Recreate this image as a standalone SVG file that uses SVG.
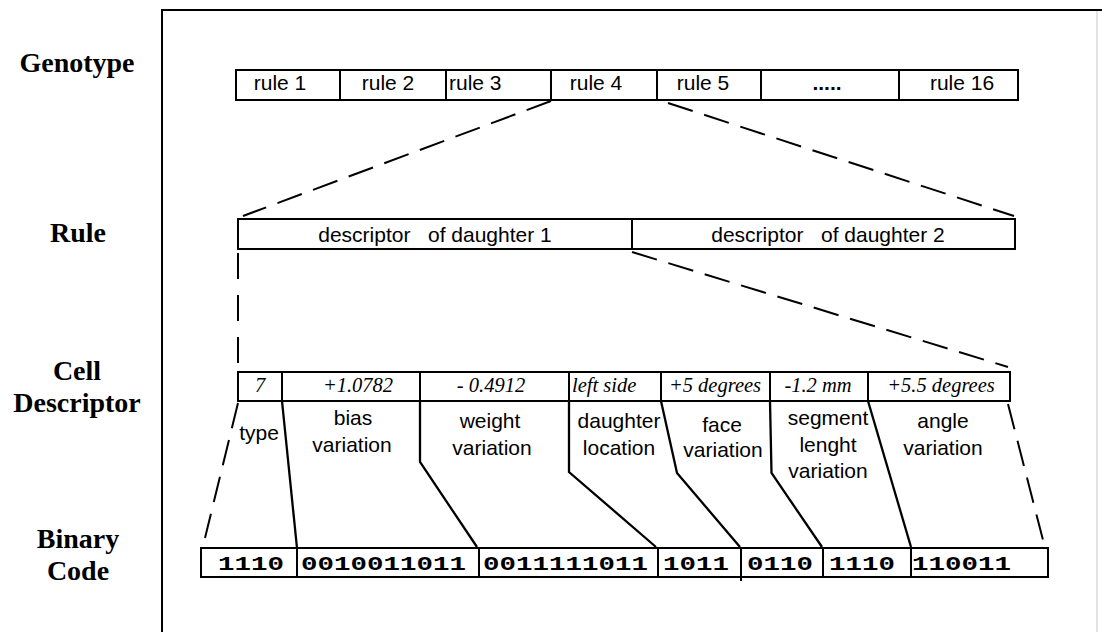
<svg xmlns="http://www.w3.org/2000/svg" width="1102" height="632" viewBox="0 0 1102 632">
<style>
.box{fill:#fff;stroke:#000;stroke-width:2}
.lbl{font-family:"Liberation Serif","Times New Roman",serif;font-weight:bold;font-size:28px;text-anchor:middle;fill:#000}
.t{font-family:"Liberation Sans",Arial,sans-serif;font-size:21px;fill:#000}
.c{text-anchor:middle}
.it{font-family:"Liberation Serif","Times New Roman",serif;font-style:italic;font-size:20.5px;text-anchor:middle;fill:#000}
.st{text-anchor:start}
.bin{font-family:"Liberation Mono","Courier New",monospace;font-weight:bold;font-size:20px;fill:#000}
.dash{stroke:#000;stroke-width:2;stroke-dasharray:26 12;fill:none}
.solid{stroke:#000;stroke-width:2.3;fill:none;stroke-linejoin:miter}
.frame{stroke:#000;stroke-width:2;fill:none}
</style>
<rect width="1102" height="632" fill="#fff"/>
<g id="frame">
<line x1="1097" y1="10" x2="1097" y2="632" stroke="#d8d8d8" stroke-width="1.5"/>
<polyline class="frame" points="162,632 162,10 1102,10"/>
</g>
<g id="labels">
<text class="lbl" x="77" y="72">Genotype</text>
<text class="lbl" x="78" y="242">Rule</text>
<text class="lbl" x="77" y="380">Cell</text>
<text class="lbl" x="77" y="412">Descriptor</text>
<text class="lbl" x="78" y="548">Binary</text>
<text class="lbl" x="78" y="580">Code</text>
</g>
<g id="genotype">
<rect class="box" x="236" y="70" width="104" height="30"/>
<rect class="box" x="340" y="70" width="106" height="30"/>
<rect class="box" x="446" y="70" width="105" height="30"/>
<rect class="box" x="551" y="70" width="106" height="30"/>
<rect class="box" x="657" y="70" width="104" height="30"/>
<rect class="box" x="761" y="70" width="138" height="30"/>
<rect class="box" x="899" y="70" width="119" height="30"/>
<text class="t c" x="280" y="90">rule 1</text>
<text class="t c" x="388" y="90">rule 2</text>
<text class="t" x="449" y="90">rule 3</text>
<text class="t c" x="596" y="90">rule 4</text>
<text class="t c" x="703" y="90">rule 5</text>
<text class="t c" x="827" y="90" font-weight="bold">.....</text>
<text class="t c" x="962" y="90">rule 16</text>
</g>
<g id="rule">
<rect class="box" x="238" y="219" width="394" height="30"/>
<rect class="box" x="632" y="219" width="383" height="30"/>
<text class="t c" x="435" y="242" xml:space="preserve">descriptor   of daughter 1</text>
<text class="t c" x="828" y="242" xml:space="preserve">descriptor   of daughter 2</text>
</g>
<g id="cell-descriptor">
<rect class="box" x="238" y="372" width="44" height="29"/>
<rect class="box" x="282" y="372" width="138" height="29"/>
<rect class="box" x="420" y="372" width="149" height="29"/>
<rect class="box" x="569" y="372" width="92" height="29"/>
<rect class="box" x="661" y="372" width="109" height="29"/>
<rect class="box" x="770" y="372" width="98" height="29"/>
<rect class="box" x="868" y="372" width="142" height="29"/>
<text class="it" x="260" y="392">7</text>
<text class="it" x="358" y="392">+1.0782</text>
<text class="it" x="491" y="392" xml:space="preserve">- 0.4912</text>
<text class="it st" x="572" y="392">left side</text>
<text class="it" x="715" y="392">+5 degrees</text>
<text class="it" x="818" y="392">-1.2 mm</text>
<text class="it" x="941" y="392">+5.5 degrees</text>
</g>
<g id="field-names">
<text class="t c" x="259" y="440">type</text>
<text class="t c" x="353" y="425">bias</text>
<text class="t c" x="352" y="452">variation</text>
<text class="t c" x="490" y="428">weight</text>
<text class="t c" x="492" y="455">variation</text>
<text class="t c" x="619" y="428">daughter</text>
<text class="t c" x="619" y="455">location</text>
<text class="t c" x="722" y="432">face</text>
<text class="t c" x="723" y="457">variation</text>
<text class="t c" x="828" y="425">segment</text>
<text class="t c" x="828" y="452">lenght</text>
<text class="t c" x="828" y="478">variation</text>
<text class="t c" x="943" y="428">angle</text>
<text class="t c" x="943" y="455">variation</text>
</g>
<g id="binary-code">
<rect class="box" x="201" y="548" width="96" height="29"/>
<rect class="box" x="297" y="548" width="182" height="29"/>
<rect class="box" x="479" y="548" width="179" height="29"/>
<rect class="box" x="658" y="548" width="83" height="29"/>
<rect class="box" x="741" y="548" width="82" height="29"/>
<rect class="box" x="823" y="548" width="88" height="29"/>
<rect class="box" x="911" y="548" width="137" height="29"/>
<line x1="741" y1="577" x2="741" y2="581" stroke="#000" stroke-width="2"/>
<text class="bin" x="218" y="570" textLength="66" lengthAdjust="spacingAndGlyphs">1110</text>
<text class="bin" x="301" y="570" textLength="165" lengthAdjust="spacingAndGlyphs">0010011011</text>
<text class="bin" x="483" y="570" textLength="165" lengthAdjust="spacingAndGlyphs">0011111011</text>
<text class="bin" x="663" y="570" textLength="66" lengthAdjust="spacingAndGlyphs">1011</text>
<text class="bin" x="747" y="570" textLength="66" lengthAdjust="spacingAndGlyphs">0110</text>
<text class="bin" x="829" y="570" textLength="66" lengthAdjust="spacingAndGlyphs">1110</text>
<text class="bin" x="912" y="570" textLength="99" lengthAdjust="spacingAndGlyphs">110011</text>
</g>
<g id="connectors">
<line class="dash" x1="551" y1="101" x2="243" y2="216"/>
<line class="dash" x1="668" y1="103" x2="1014" y2="216"/>
<line class="dash" x1="238" y1="253" x2="238" y2="363" style="stroke-dasharray:26 16"/>
<line class="dash" x1="632" y1="252" x2="1008" y2="367"/>
<line class="dash" x1="238" y1="403" x2="205" y2="538"/>
<line class="dash" x1="1008" y1="404" x2="1043" y2="540"/>
<polyline class="solid" points="282,401 297,548"/>
<polyline class="solid" points="420,401 420,462 477,547"/>
<polyline class="solid" points="569,401 569,472 656,547"/>
<polyline class="solid" points="661,401 677,473 740,547"/>
<polyline class="solid" points="770,401 771.5,473 822,547"/>
<polyline class="solid" points="868,401 911,547"/>
</g>
</svg>
